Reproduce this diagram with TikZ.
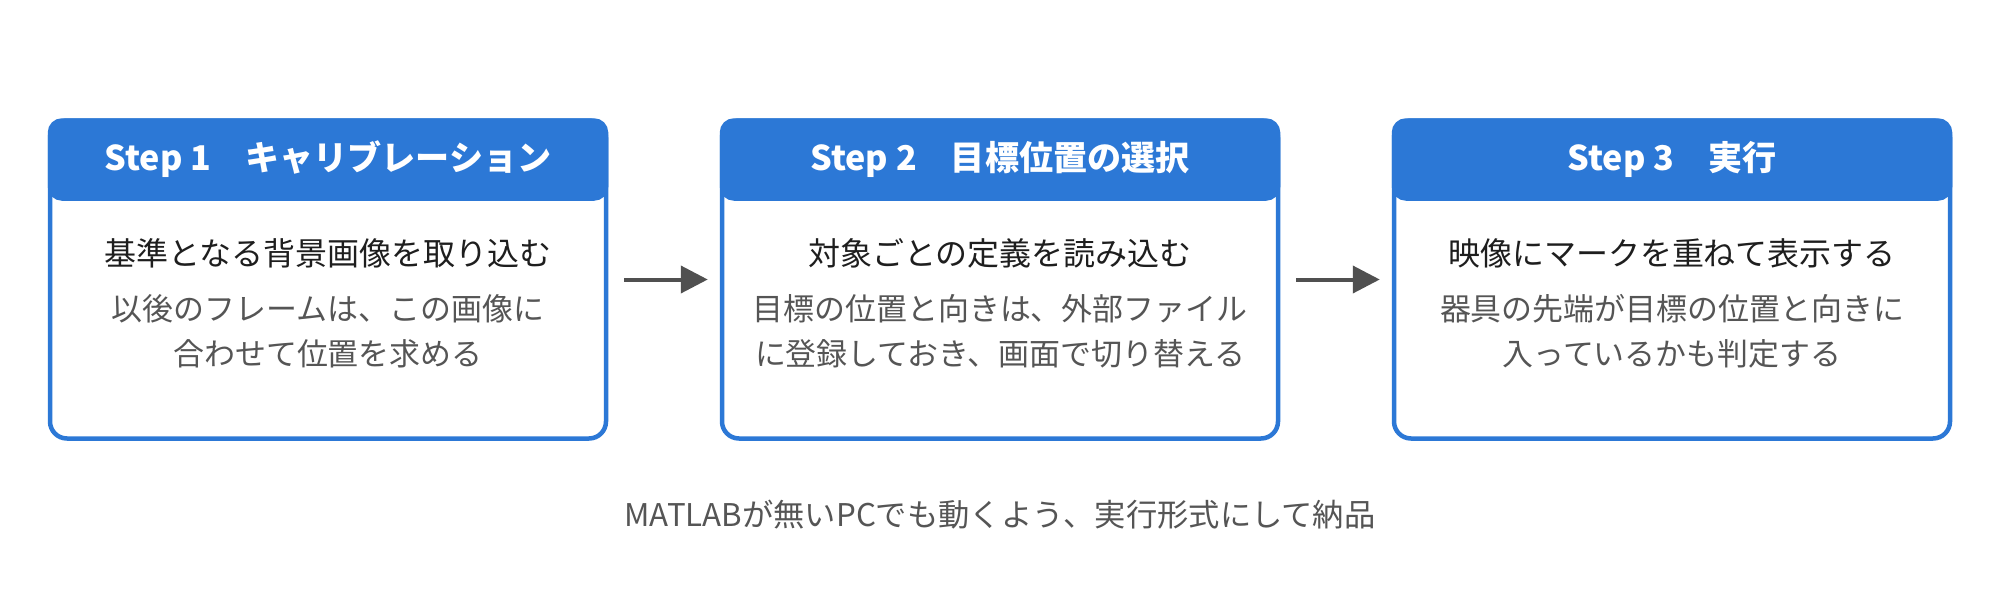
\documentclass[tikz,border=0pt]{standalone}
\usepackage{fontspec}
\setmainfont{Noto Sans CJK JP}
\usetikzlibrary{arrows.meta,positioning}
\definecolor{stepblue}{HTML}{2C78D6}
\definecolor{maintext}{HTML}{1E1E1E}
\definecolor{subtext}{HTML}{555555}
\definecolor{arrowgray}{HTML}{505050}
\tikzset{
  stepbox/.style={draw=stepblue, line width=0.045cm, fill=white, rounded corners=0.17cm,
    minimum width=5.56cm, minimum height=3.18cm, inner sep=0pt},
  stephead/.style={draw=stepblue, fill=stepblue, line width=0.045cm, rounded corners=0.12cm,
    minimum width=5.56cm, minimum height=0.78cm, inner sep=0pt, text=white,
    font=\fontsize{9.7pt}{11pt}\selectfont\bfseries},
  mainline/.style={text=maintext, font=\fontsize{9.1pt}{11pt}\selectfont, inner sep=0pt},
  subline/.style={text=subtext, font=\fontsize{8.8pt}{12.9pt}\selectfont, align=center, inner sep=0pt},
  flowarrow/.style={draw=arrowgray, line width=0.04cm, -{Triangle[length=0.27cm,width=0.27cm]},
    shorten <=0.16cm, shorten >=0.12cm},
  note/.style={text=subtext, font=\fontsize{8.9pt}{10pt}\selectfont, inner sep=0pt}
}
\begin{document}
\begin{tikzpicture}
\useasboundingbox[fill=white] (0,0) rectangle (20,-6);
% boxes
\node[stepbox] (b1) at (3.28,-2.795) {};
\node[stepbox] (b2) at (10.00,-2.795) {};
\node[stepbox] (b3) at (16.72,-2.795) {};
% headers
\node[stephead, anchor=north] (h1) at (b1.north) {Step 1　キャリブレーション};
\node[stephead, anchor=north] (h2) at (b2.north) {Step 2　目標位置の選択};
\node[stephead, anchor=north] (h3) at (b3.north) {Step 3　実行};
% main lines
\node[mainline] (m1) at (3.28,-2.53) {基準となる背景画像を取り込む};
\node[mainline] (m2) at (10.00,-2.53) {対象ごとの定義を読み込む};
\node[mainline] (m3) at (16.72,-2.53) {映像にマークを重ねて表示する};
% sub lines
\node[subline] (s1) at (3.28,-3.31) {以後のフレームは、この画像に\\合わせて位置を求める};
\node[subline] (s2) at (10.00,-3.31) {目標の位置と向きは、外部ファイル\\に登録しておき、画面で切り替える};
\node[subline] (s3) at (16.72,-3.31) {器具の先端が目標の位置と向きに\\入っているかも判定する};
% arrows
\draw[flowarrow] (b1) -- (b2);
\draw[flowarrow] (b2) -- (b3);
% bottom note
\node[note] (n) at (10.00,-5.15) {MATLABが無いPCでも動くよう、実行形式にして納品};
\end{tikzpicture}
\end{document}
